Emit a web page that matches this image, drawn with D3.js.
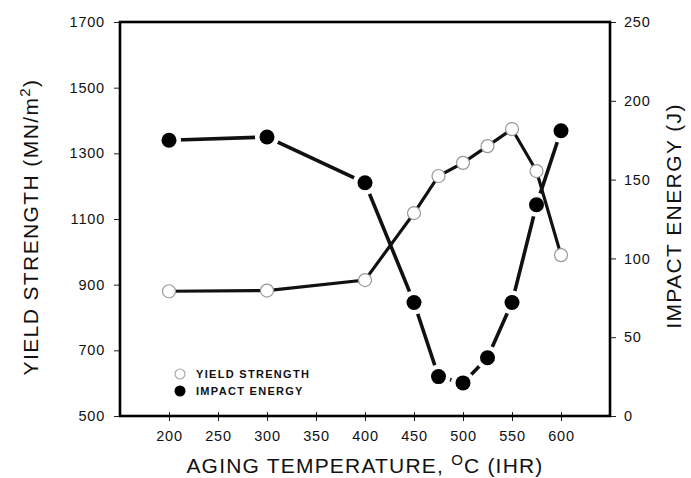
<!DOCTYPE html>
<html>
<head>
<meta charset="utf-8">
<script src="https://cdn.jsdelivr.net/npm/d3@7"></script>
<style>
  body { margin: 0; background: #fff; }
  text { font-family: "Liberation Sans", Arial, sans-serif; fill: #111; }
</style>
</head>
<body>
<svg id="chart" width="691" height="478"></svg>
<script>
// data
const temps = [200, 300, 400, 450, 475, 500, 525, 550, 575, 600];
const yieldStrength = [880, 882, 914, 1118, 1231, 1271, 1322, 1374, 1246, 990];
const impactEnergy = [175, 177, 148, 72, 25, 21, 37, 72, 134, 181];

const xTicks = [200, 250, 300, 350, 400, 450, 500, 550, 600];
const yLeftTicks = [500, 700, 900, 1100, 1300, 1500, 1700];
const yRightTicks = [0, 50, 100, 150, 200, 250];

const width = 691, height = 478;
const margin = { left: 120, right: 81, top: 22, bottom: 62 };
const innerW = width - margin.left - margin.right;
const innerH = height - margin.top - margin.bottom;

const svg = d3.select("#chart");
const g = svg.append("g").attr("transform", `translate(${margin.left},${margin.top})`);

const x = d3.scaleLinear().domain([150, 650]).range([0, innerW]);
const yL = d3.scaleLinear().domain([500, 1700]).range([innerH, 0]);
const yR = d3.scaleLinear().domain([0, 250]).range([innerH, 0]);

//axes
const leftAxis = g.append("g")
    .call(d3.axisLeft(yL).tickValues(yLeftTicks).tickFormat(d3.format("d")).tickSize(6).tickPadding(9));
const rightAxis = g.append("g")
    .attr("transform", `translate(${innerW},0)`)
    .call(d3.axisRight(yR).tickValues(yRightTicks).tickFormat(d3.format("d")).tickSize(6).tickPadding(8));
const bottomAxis = g.append("g")
    .attr("transform", `translate(0,${innerH})`)
    .call(d3.axisBottom(x).tickValues(xTicks).tickFormat(d3.format("d")).tickSize(5).tickPadding(10));
bottomAxis.selectAll(".tick line").attr("y1", -4);

[leftAxis, rightAxis, bottomAxis].forEach(a => {
    a.select(".domain").remove();
    a.selectAll(".tick line").attr("stroke", "#222").attr("stroke-width", 1);
    a.selectAll(".tick text")
        .attr("font-size", 14.5)
        .attr("letter-spacing", 0.8)
        .attr("fill", "#111");
});

//frame
g.append("rect")
    .attr("width", innerW)
    .attr("height", innerH)
    .attr("fill", "none")
    .attr("stroke", "#000")
    .attr("stroke-width", 2.6);

//lines
const yieldLine = d3.line().x((d, i) => x(temps[i])).y(d => yL(d));
const impactLine = d3.line().x((d, i) => x(temps[i])).y(d => yR(d));

g.append("path")
    .datum(impactEnergy)
    .attr("d", impactLine)
    .attr("fill", "none")
    .attr("stroke", "#111")
    .attr("stroke-width", 3.6);

// white gap round the filled markers, like the printed figure
g.selectAll("circle.impact-halo")
    .data(impactEnergy)
    .enter()
    .append("circle")
        .attr("class", "impact-halo")
        .attr("cx", (d, i) => x(temps[i]))
        .attr("cy", d => yR(d))
        .attr("r", 12)
        .attr("fill", "#fff");

g.append("path")
    .datum(yieldStrength)
    .attr("d", yieldLine)
    .attr("fill", "none")
    .attr("stroke", "#111")
    .attr("stroke-width", 3.2);

//markers
g.selectAll("circle.impact")
    .data(impactEnergy)
    .enter()
    .append("circle")
        .attr("class", "impact")
        .attr("cx", (d, i) => x(temps[i]))
        .attr("cy", d => yR(d))
        .attr("r", 7.5)
        .attr("fill", "#000");

g.selectAll("circle.yield")
    .data(yieldStrength)
    .enter()
    .append("circle")
        .attr("class", "yield")
        .attr("cx", (d, i) => x(temps[i]))
        .attr("cy", d => yL(d))
        .attr("r", 6.5)
        .attr("fill", "#fff")
        .attr("stroke", "#999")
        .attr("stroke-width", 1.2);

//legend
const legend = g.append("g").attr("transform", "translate(60,352)");
legend.append("circle").attr("cx", 0).attr("cy", 0).attr("r", 5)
    .attr("fill", "#fff").attr("stroke", "#aaa").attr("stroke-width", 1.2);
legend.append("text").attr("x", 16).attr("y", 4).attr("font-size", 11)
    .attr("font-weight", "bold").attr("letter-spacing", 1.3).text("YIELD STRENGTH");
legend.append("circle").attr("cx", 0).attr("cy", 17).attr("r", 5.5).attr("fill", "#000");
legend.append("text").attr("x", 16).attr("y", 21).attr("font-size", 11)
    .attr("font-weight", "bold").attr("letter-spacing", 1.3).text("IMPACT ENERGY");

//axis titles
const leftTitle = svg.append("text")
    .attr("transform", "translate(38,227) rotate(-90)")
    .attr("text-anchor", "middle")
    .attr("letter-spacing", 1.4)
    .attr("font-size", 21);
leftTitle.append("tspan").text("YIELD STRENGTH (MN/m");
leftTitle.append("tspan").attr("baseline-shift", "super").attr("font-size", 15).text("2");
leftTitle.append("tspan").text(")");

svg.append("text")
    .attr("transform", "translate(681,216) rotate(-90)")
    .attr("text-anchor", "middle")
    .attr("letter-spacing", 1.4)
    .attr("font-size", 21)
    .text("IMPACT ENERGY (J)");

const xTitle = svg.append("text")
    .attr("x", margin.left + innerW / 2)
    .attr("y", 473)
    .attr("text-anchor", "middle")
    .attr("letter-spacing", 1.2)
    .attr("font-size", 21);
xTitle.append("tspan").text("AGING TEMPERATURE, ");
xTitle.append("tspan").attr("baseline-shift", "super").attr("font-size", 15).text("O");
xTitle.append("tspan").text("C (IHR)");
</script>
</body>
</html>
